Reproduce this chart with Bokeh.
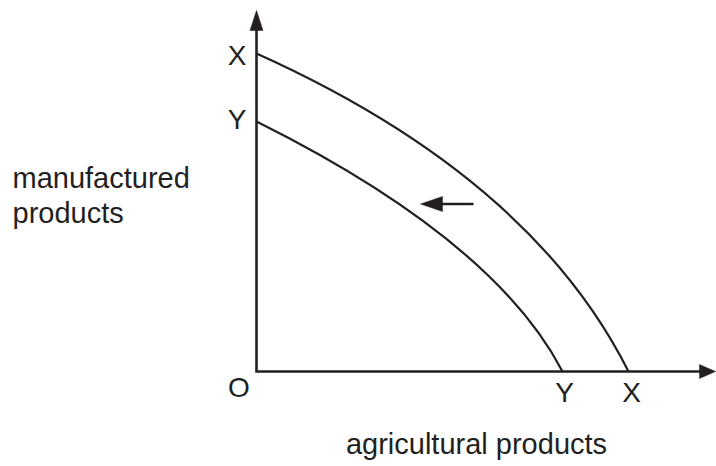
from bokeh.plotting import figure
from bokeh.models import Range1d, ColumnDataSource
from bokeh.core.properties import value
from bokeh.embed import file_html
from bokeh.resources import INLINE

# ---- data ----
curve_names = ["X", "Y"]            # production possibility frontiers
mfg_max = [318, 250]                # intercept on manufactured-products axis
agri_max = [372, 306]               # intercept on agricultural-products axis
bow_x = [274, 237]                  # quadratic control point (bow of frontier)
bow_y = [195, 132]
shift_from = 217                    # shift arrow (agricultural units)
shift_to = 164
shift_level = 167.5                 # manufactured units
x_axis_len = 459
y_axis_len = 361

INK = "#231f20"
FONT = value("Liberation Sans")

p = figure(width=716, height=466, output_backend="svg", toolbar_location=None,
           x_range=Range1d(-256, 460), y_range=Range1d(-95, 371),
           min_border=0, min_border_left=0, min_border_right=0,
           min_border_top=0, min_border_bottom=0)
p.axis.visible = False
p.grid.visible = False
p.outline_line_color = None
p.background_fill_color = "white"
p.border_fill_color = "white"

# axes (one polyline so the corner is square)
ax_head_x, ax_head_w = 16, 7
ay_head_l, ay_head_w = 20, 6.5
p.line([0, 0, x_axis_len - ax_head_x + 1], [y_axis_len - ay_head_l + 1, 0, 0],
       line_color=INK, line_width=2.6, line_join="miter")
# axis arrowheads
p.patch([0 - ay_head_w, 0, 0 + ay_head_w],
        [y_axis_len - ay_head_l, y_axis_len, y_axis_len - ay_head_l],
        fill_color=INK, line_color=INK, line_width=0.5)
p.patch([x_axis_len - ax_head_x, x_axis_len, x_axis_len - ax_head_x],
        [ax_head_w, 0, -ax_head_w],
        fill_color=INK, line_color=INK, line_width=0.5)

# frontiers
src = ColumnDataSource(dict(x0=[0, 0], y0=mfg_max, x1=agri_max, y1=[0, 0],
                            cx=bow_x, cy=bow_y))
p.quadratic(x0="x0", y0="y0", x1="x1", y1="y1", cx="cx", cy="cy",
            source=src, line_color=INK, line_width=2.2)

# shift arrow
sh_head_l, sh_head_w = 22, 7.5
p.line([shift_from, shift_to + sh_head_l - 1], [shift_level, shift_level],
       line_color=INK, line_width=2.4)
p.patch([shift_to + sh_head_l, shift_to, shift_to + sh_head_l],
        [shift_level + sh_head_w, shift_level, shift_level - sh_head_w],
        fill_color=INK, line_color=INK, line_width=0.5)

# letter labels on the axes
p.text(x=[0, 0], y=mfg_max, text=curve_names, x_offset=-19.5, y_offset=[2, -2],
       text_align="center", text_baseline="alphabetic", text_font=FONT,
       text_font_size="28px", text_color=INK)
p.text(x=agri_max, y=[0, 0], text=curve_names, x_offset=[3, 2], y_offset=21,
       text_align="center", text_baseline="alphabetic", text_font=FONT,
       text_font_size="28px", text_color=INK)
p.text(x=[0], y=[0], text=["O"], x_offset=-17.5, y_offset=16,
       text_align="center", text_baseline="alphabetic", text_font=FONT,
       text_font_size="28px", text_color=INK)

# axis titles
p.text(x=[-244, -244], y=[194, 159], text=["manufactured", "products"],
       text_align="left", text_baseline="alphabetic", text_font=FONT,
       text_font_size="29px", text_color=INK)
p.text(x=[220], y=[-72], text=["agricultural products"],
       text_align="center", text_baseline="alphabetic", text_font=FONT,
       text_font_size="29px", text_color=INK)

open("out.html", "w").write(file_html(p, INLINE))
